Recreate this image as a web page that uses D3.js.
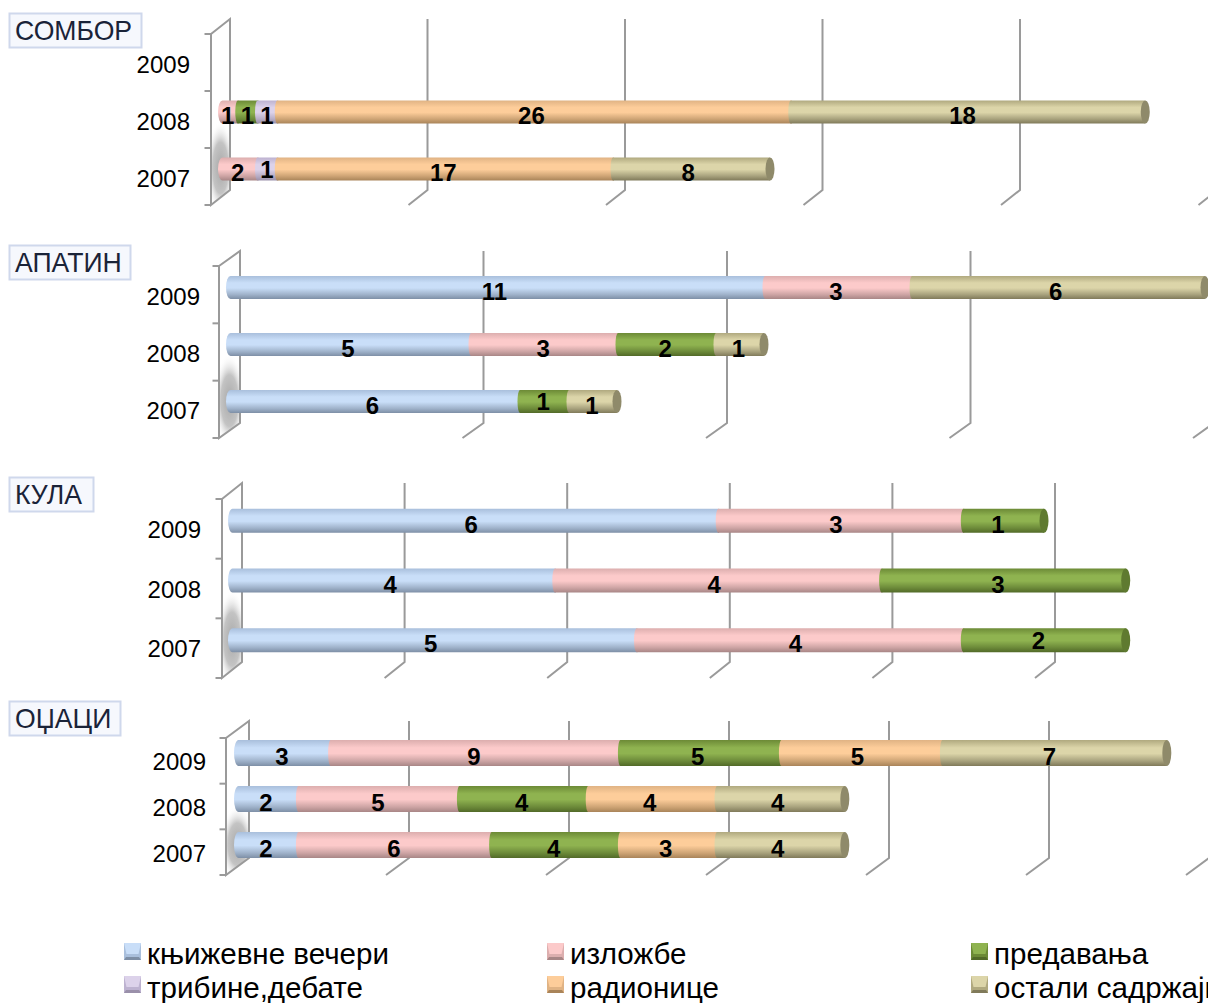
<!DOCTYPE html>
<html><head><meta charset="utf-8">
<script src="https://cdn.jsdelivr.net/npm/d3@7/dist/d3.min.js"></script>
<style>html,body{margin:0;padding:0;background:#fff}svg{display:block}text{font-family:"Liberation Sans",Arial,sans-serif}</style>
</head><body><svg id="c" width="1208" height="1003"></svg>
<script>
const years = ["2009","2008","2007"];
const seriesNames = ["књижевне вечери","изложбе","предавања","трибине,дебате","радионице","остали садржаји"];
const panelNames = ["СОМБОР","АПАТИН","КУЛА","ОЏАЦИ"];
const somborValues = [[0,0,0,0,0,0],[0,1,1,1,26,18],[0,2,0,1,17,8]];
const apatinValues = [[11,3,0,0,0,6],[5,3,2,0,0,1],[6,0,1,0,0,1]];
const kulaValues   = [[6,3,1,0,0,0],[4,4,3,0,0,0],[5,4,2,0,0,0]];
const ocaciValues  = [[3,9,5,0,5,7],[2,5,4,0,4,4],[2,6,4,0,3,4]];
const somborTicks = [0,10,20,30,40,50];
const apatinTicks = [0,5,10,15,20];
const kulaTicks = [0,2,4,6,8,10];
const ocaciTicks = [0,5,10,15,20,25,30];

const colors = [
 {top:"#a9bfdc",mid:"#c9def8",bot:"#7e8fa6",cap:"#8c9db4"},
 {top:"#dcaeae",mid:"#fccaca",bot:"#a88686",cap:"#b89898"},
 {top:"#6c8a36",mid:"#8fb350",bot:"#526a28",cap:"#5f7a30"},
 {top:"#bdb2d0",mid:"#dcd2ea",bot:"#9a90aa",cap:"#a59bb5"},
 {top:"#e0b384",mid:"#fdcd9a",bot:"#a98459",cap:"#c09a72"},
 {top:"#b0a97f",mid:"#dcd5a9",bot:"#807a5a",cap:"#8f8a6a"}];

const layouts = [
 {name:0,vals:somborValues,ticks:somborTicks,bx:230,fx:211,ty:19,by:190,depthY:15,x0:218,unit:19.75,gridUnit:19.75,lf:.992,bar:23,yearEnd:190,yearDy:17.5,box:[9,13,132,35],bandR:[26.5,197.5],raised:[[2,3]]},
 {name:1,vals:apatinValues,ticks:apatinTicks,bx:240,fx:219,ty:251,by:423,depthY:15,x0:226,unit:49,gridUnit:48.7,lf:.996,bar:23,yearEnd:200,yearDy:17,box:[9,245,121,35],bandR:[259,430],raised:[[2,2]]},
 {name:2,vals:kulaValues,ticks:kulaTicks,bx:242,fx:222,ty:483,by:662,depthY:16,x0:228,unit:81.7,gridUnit:81.3,lf:.992,bar:24,yearEnd:201,yearDy:17,box:[9,477,84,35],bandR:[491,670],raised:[[2,2]]},
 {name:3,vals:ocaciValues,ticks:ocaciTicks,bx:249,fx:226,ty:721,by:858,depthY:17,x0:234,unit:32.2,gridUnit:32,lf:.993,bar:26,yearEnd:206,yearDy:16.5,box:[9,701,111,35],bandR:[730,868],raised:[]}
];

const svg = d3.select("#c");
const defs = svg.append("defs");
colors.forEach((c,i)=>{
  const g = defs.append("linearGradient").attr("id","g"+i).attr("x1",0).attr("y1",0).attr("x2",0).attr("y2",1);
  [[0,c.top],[.3,c.mid],[.52,c.mid],[.8,d3.interpolateRgb(c.mid,c.bot)(.55)],[1,c.bot]].forEach(s=>g.append("stop").attr("offset",s[0]).attr("stop-color",s[1]));
});
const sh = defs.append("radialGradient").attr("id","wall").attr("cx",0).attr("cy",0).attr("r",1)
  .attr("gradientUnits","objectBoundingBox").attr("gradientTransform","translate(.5,.8) scale(.75,.25)");
[[0,"#a8a8a8",1],[.55,"#bdbdbd",.9],[1,"#fff",0]].forEach(s=>sh.append("stop").attr("offset",s[0]).attr("stop-color",s[1]).attr("stop-opacity",s[2]));
const GRID="#9a9a9a";

layouts.forEach(L=>{
  const g = svg.append("g");
  const y = d3.scaleBand().domain(years).range(L.bandR);
  const x = d3.scaleLinear().domain([0,1]).range([L.x0,L.x0+L.unit]);
  const xl = d3.scaleLinear().domain([0,1]).range([L.x0,L.x0+L.unit*L.lf]);
  const xg = d3.scaleLinear().domain([0,1]).range([L.bx,L.bx+L.gridUnit]);
  const dx = L.bx-L.fx;

  g.append("path").attr("d",`M${L.fx},${L.ty+L.depthY}L${L.bx},${L.ty}V${L.by}L${L.fx},${L.by+L.depthY}Z`)
    .attr("fill","url(#wall)").attr("stroke",GRID).attr("stroke-width",2);
  const n=years.length;
  d3.range(n+1).forEach(i=>{
    const ty=L.ty+L.depthY+(L.by-L.ty)*i/n;
    g.append("line").attr("x1",L.fx-6.5).attr("x2",L.fx).attr("y1",ty).attr("y2",ty).attr("stroke",GRID).attr("stroke-width",2);
  });
  L.ticks.slice(1).forEach(t=>{
    const gx=xg(t);
    g.append("path").attr("d",`M${gx},${L.ty}V${L.by}L${gx-dx},${L.by+L.depthY}`).attr("fill","none").attr("stroke",GRID).attr("stroke-width",2);
  });
  years.forEach(yr=>{
    g.append("text").attr("x",L.yearEnd).attr("y",y(yr)+y.bandwidth()/2+L.yearDy).attr("text-anchor","end").attr("font-size",24).attr("fill","#000").text(yr);
  });
  L.vals.forEach((row,ri)=>{
    const cy=y(years[ri])+y.bandwidth()/2, h=L.bar, rx=2.5, rc=4.5;
    const top=cy-h/2, bot=cy+h/2;
    const segs=[];let cum=0;
    row.forEach((v,si)=>{ if(v>0){segs.push({si,v,a:cum,b:cum+v});} cum+=v; });
    segs.forEach((s,k)=>{
      const last=k===segs.length-1;
      const r=k===0?rc:rx, xa=x(s.a)+(k===0?rc:0), xb=x(s.b)+(last?-1:1);
      g.append("path").attr("d",`M${xa},${top}H${xb}V${bot}H${xa}A${r},${h/2} 0 0 1 ${xa},${top}Z`)
       .attr("fill",`url(#g${s.si})`);
      if(last){
        g.append("ellipse").attr("cx",xb).attr("cy",cy).attr("rx",rc).attr("ry",h/2).attr("fill",colors[s.si].cap);
      }
    });
    segs.forEach(s=>{
      const raised=L.raised.some(r=>r[0]===ri&&r[1]===s.si);
      g.append("text").attr("x",xl(s.a+s.v/2)).attr("y",cy+(raised?0:3.5)+8.5).attr("text-anchor","middle")
       .attr("font-size",24).attr("font-weight","bold").attr("fill","#000").text(s.v);
    });
  });
  g.append("rect").attr("x",L.box[0]+.5).attr("y",L.box[1]+.5).attr("width",L.box[2]).attr("height",L.box[3]-1)
    .attr("fill","#f6f8fd").attr("stroke","#cfd8ec").attr("stroke-width",2);
  const t=g.append("text").attr("x",L.box[0]+6).attr("y",L.box[1]+27).attr("font-size",28).attr("fill","#1a2338").text(panelNames[L.name]);
  t.attr("textLength",t.node().getComputedTextLength()*.95).attr("lengthAdjust","spacingAndGlyphs");
});

const legendX=[124,547,971], legendY=[943,976];
const legendBase=[964,998];
seriesNames.forEach((nm,i)=>{
  const c=colors[i], lx=legendX[i%3], row=Math.floor(i/3), ly=legendY[row];
  svg.append("rect").attr("x",lx).attr("y",ly).attr("width",17).attr("height",17).attr("fill",c.top);
  svg.append("path").attr("d",`M${lx},${ly}h17l-2.5,11h-12Z`).attr("fill",c.mid);
  svg.append("path").attr("d",`M${lx},${ly+17}h17l-2,-3h-13Z`).attr("fill",c.bot);
  const t=svg.append("text").attr("x",lx+23).attr("y",legendBase[row]).attr("font-size",30).attr("fill","#000").text(nm);
  t.attr("textLength",t.node().getComputedTextLength()*.985).attr("lengthAdjust","spacingAndGlyphs");
});
</script></body></html>
